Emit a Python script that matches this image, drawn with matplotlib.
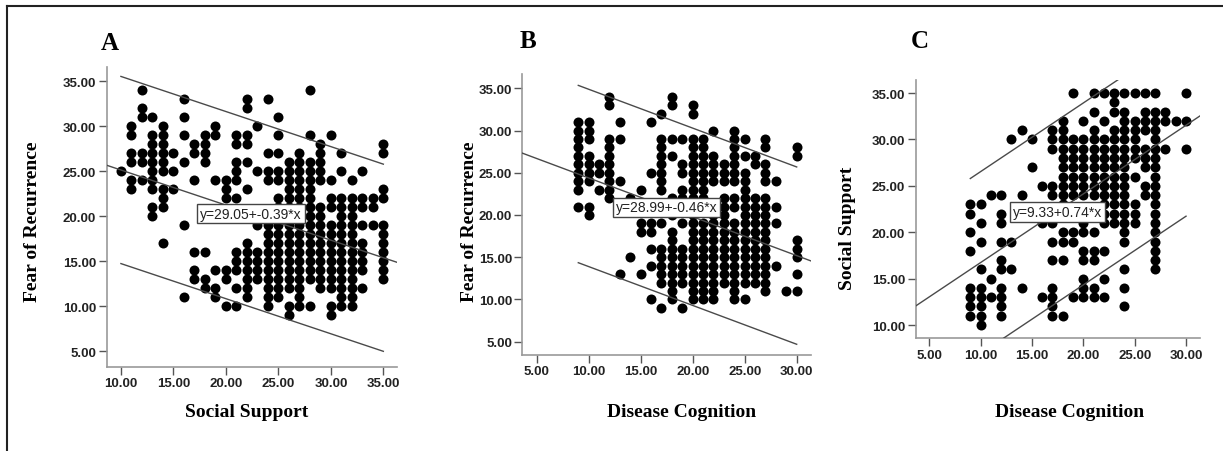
import matplotlib
matplotlib.use('Agg')
import matplotlib.pyplot as plt
from matplotlib.lines import Line2D

# ---- data (one list of y values per x column) ----
a_cols = [10, 11, 12, 13, 14, 15, 16, 17, 18, 19, 20, 21, 22, 23, 24, 25, 26, 27, 28, 29, 30, 31, 32, 33, 34, 35]
a_vals = [
    [25],
    [30, 29, 27, 26, 24, 23],
    [34, 32, 31, 27, 26, 24],
    [31, 29, 28, 27, 26, 25, 24, 23, 21, 20],
    [30, 29, 28, 27, 26, 25, 23, 22, 21, 17],
    [27, 25, 23],
    [33, 31, 29, 26, 19, 11],
    [28, 27, 24, 16, 14, 13],
    [29, 28, 27, 26, 16, 13, 12],
    [30, 29, 24, 14, 12, 11],
    [24, 23, 22, 14, 13, 10],
    [29, 28, 26, 25, 24, 22, 16, 15, 14, 12, 10],
    [33, 32, 29, 28, 26, 23, 17, 16, 15, 14, 13, 12, 11],
    [30, 25, 19, 16, 15, 14, 13],
    [33, 27, 25, 24, 19, 18, 17, 16, 15, 14, 13, 12, 11, 10],
    [31, 29, 27, 25, 24, 22, 21, 20, 19, 18, 17, 16, 15, 14, 13, 12, 11],
    [26, 25, 24, 23, 22, 21, 20, 19, 18, 17, 16, 15, 14, 13, 12, 10, 9],
    [27, 26, 25, 24, 23, 22, 21, 20, 19, 18, 17, 16, 15, 14, 13, 12, 11, 10],
    [34, 29, 26, 25, 24, 23, 22, 21, 20, 19, 18, 17, 16, 15, 14, 13, 10],
    [28, 27, 26, 25, 24, 21, 20, 19, 18, 17, 16, 15, 14, 13, 12],
    [29, 24, 22, 21, 19, 18, 17, 16, 15, 14, 13, 12, 10, 9],
    [27, 25, 22, 21, 20, 19, 18, 17, 16, 15, 14, 13, 12, 11, 10],
    [24, 22, 21, 20, 19, 18, 17, 16, 15, 14, 13, 12, 11, 10],
    [25, 22, 21, 19, 17, 16, 15, 14, 12],
    [22, 21, 19],
    [28, 27, 23, 22, 19, 18, 17, 16, 15, 14, 13],
]

b_cols = [9, 10, 11, 12, 13, 14, 15, 16, 17, 18, 19, 20, 21, 22, 23, 24, 25, 26, 27, 28, 29, 30]
b_vals = [
    [31, 30, 29, 28, 27, 26, 25, 24, 23, 21],
    [31, 30, 29, 27, 26, 25, 24, 21, 20],
    [26, 25, 23],
    [34, 33, 29, 28, 27, 26, 25, 24, 23, 22],
    [31, 29, 24, 13],
    [22, 15],
    [23, 19, 18, 13],
    [31, 25, 19, 18, 16, 14, 10],
    [32, 29, 28, 27, 26, 25, 24, 23, 19, 16, 15, 14, 13, 12, 9],
    [34, 33, 29, 27, 22, 20, 18, 17, 16, 15, 14, 13, 12, 11, 10],
    [29, 26, 25, 23, 22, 19, 16, 15, 14, 13, 12, 9],
    [33, 32, 29, 28, 27, 26, 25, 24, 23, 22, 21, 20, 19, 18, 17, 16, 15, 14, 13, 12, 11, 10],
    [29, 28, 27, 26, 25, 24, 23, 22, 19, 18, 17, 16, 15, 14, 13, 12, 11, 10],
    [30, 27, 26, 25, 24, 20, 19, 18, 17, 16, 15, 14, 13, 12, 11, 10],
    [26, 25, 24, 22, 21, 20, 19, 18, 17, 16, 15, 14, 13, 12],
    [30, 29, 28, 27, 26, 25, 24, 22, 21, 19, 18, 17, 16, 15, 14, 13, 12, 11, 10],
    [29, 27, 25, 24, 23, 22, 21, 20, 19, 18, 17, 16, 15, 14, 13, 12, 10],
    [27, 26, 22, 21, 20, 19, 18, 17, 16, 15, 14, 13, 12],
    [29, 28, 26, 25, 24, 22, 21, 20, 19, 18, 17, 16, 15, 14, 13, 12, 11],
    [24, 21, 19, 14],
    [11],
    [28, 27, 17, 16, 15, 13, 11],
]

c_cols = [9, 10, 11, 12, 13, 14, 15, 16, 17, 18, 19, 20, 21, 22, 23, 24, 25, 26, 27, 28, 29, 30]
c_vals = [
    [23, 22, 20, 18, 14, 13, 12, 11],
    [23, 21, 19, 16, 14, 13, 12, 11, 10],
    [24, 15, 13],
    [24, 22, 21, 19, 17, 16, 14, 13, 12, 11],
    [30, 19, 16],
    [31, 24, 14],
    [30, 27],
    [25, 21, 13],
    [31, 30, 29, 25, 24, 21, 19, 17, 14, 13, 12, 11],
    [32, 31, 30, 29, 28, 27, 26, 25, 24, 23, 20, 19, 17, 11],
    [35, 30, 29, 28, 27, 26, 25, 24, 20, 19, 13],
    [32, 30, 29, 28, 27, 26, 25, 24, 21, 20, 18, 17, 15, 14, 13],
    [35, 33, 31, 30, 29, 28, 27, 26, 25, 24, 20, 18, 17, 14, 13],
    [35, 32, 30, 29, 28, 27, 26, 25, 24, 23, 22, 21, 18, 15, 13],
    [35, 34, 33, 31, 30, 29, 28, 27, 26, 25, 24, 23, 22, 21],
    [35, 33, 32, 31, 30, 29, 28, 27, 26, 25, 24, 23, 22, 21, 20, 19, 16, 14, 12],
    [35, 32, 31, 30, 29, 28, 26, 23, 22, 21],
    [35, 33, 32, 31, 29, 28, 27, 25, 24],
    [35, 33, 32, 31, 30, 29, 28, 27, 26, 25, 24, 23, 22, 21, 20, 19, 18, 17, 16],
    [33, 32, 29],
    [32],
    [35, 32, 29],
]

# fit lines: intercept, slope, half-width of the prediction band
a_fit = (29.05, -0.39, 10.4)
b_fit = (28.99, -0.46, 10.5)
c_fit = (9.33, 0.74, 9.8)

a_eq = "y=29.05+-0.39*x"
b_eq = "y=28.99+-0.46*x"
c_eq = "y=9.33+0.74*x"

ticks_5_35 = [5, 10, 15, 20, 25, 30, 35]
ticks_10_35 = [10, 15, 20, 25, 30, 35]
ticks_5_30 = [5, 10, 15, 20, 25, 30]

W, H = 1223, 452
fig = plt.figure(figsize=(W / 100, H / 100), dpi=100)
fig.patch.set_facecolor('white')

serif = 'Liberation Serif'
sans = 'Liberation Sans'


def px(x, y):
    return x / W, 1 - y / H


def make_panel(rect, cols, vals, fit, eq, eq_pos, xlim, ylim, xticks, yticks):
    ax = fig.add_axes(rect)
    xs, ys = [], []
    for c, v in zip(cols, vals):
        for y in v:
            xs.append(c)
            ys.append(y)
    ax.plot(xs, ys, 'o', color='black', markersize=7.2, markeredgewidth=0, zorder=2)

    b0, b1, half = fit
    # mean line across the whole axis
    ax.plot(xlim, [b0 + b1 * xlim[0], b0 + b1 * xlim[1]], color='#4a4a4a', lw=1.0, zorder=3)
    # prediction band over the data range
    x0, x1 = min(cols), max(cols)
    for s in (half, -half):
        ax.plot([x0, x1], [b0 + b1 * x0 + s, b0 + b1 * x1 + s], color='#4a4a4a', lw=1.0, zorder=3)

    ax.text(eq_pos[0], eq_pos[1], eq, ha='center', va='center', fontsize=10, family=sans,
            color='#222222', zorder=5,
            bbox=dict(boxstyle='square,pad=0.2', facecolor='white', edgecolor='#444444', lw=1.0))

    ax.set_xlim(*xlim)
    ax.set_ylim(*ylim)
    ax.set_xticks(xticks)
    ax.set_yticks(yticks)
    ax.set_xticklabels([f"{t:.2f}" for t in xticks])
    ax.set_yticklabels([f"{t:.2f}" for t in yticks])
    for lab in ax.get_xticklabels() + ax.get_yticklabels():
        lab.set_family(sans)
        lab.set_fontweight('bold')
        lab.set_fontsize(9.5)
        lab.set_color('#222222')
    ax.tick_params(direction='out', length=5.5, width=1.0, color='#555555', pad=2)
    for side in ('top', 'right'):
        ax.spines[side].set_visible(False)
    for side in ('left', 'bottom'):
        ax.spines[side].set_color('#999999')
        ax.spines[side].set_linewidth(1.2)
    return ax


make_panel([0.0872, 0.1865, 0.2374, 0.6631], a_cols, a_vals, a_fit, a_eq, (22.4, 20.3),
           (8.64, 36.3), (3.29, 36.6), ticks_10_35, ticks_5_35)
make_panel([0.4271, 0.2124, 0.2358, 0.6217], b_cols, b_vals, b_fit, b_eq, (17.5, 20.9),
           (3.62, 31.35), (3.42, 36.7), ticks_5_30, ticks_5_35)
make_panel([0.7487, 0.2493, 0.2325, 0.5714], c_cols, c_vals, c_fit, c_eq, (17.5, 22.2),
           (3.68, 31.36), (8.57, 36.4), ticks_5_30, ticks_10_35)

# panel letters and axis titles
for txt, (x, y) in [("A", (110, 43)), ("B", (528, 42)), ("C", (920, 42))]:
    fig.text(*px(x, y), txt, ha='center', va='center', fontsize=18, fontweight='bold', family=serif)

for txt, (x, y) in [("Social Support", (247, 413)), ("Disease Cognition", (682, 413)),
                    ("Disease Cognition", (1070, 413))]:
    fig.text(*px(x, y), txt, ha='center', va='center', fontsize=14, fontweight='bold', family=serif)

for txt, (x, y) in [("Fear of Recurrence", (33, 222)), ("Fear of Recurrence", (470, 222)),
                    ("Social Support", (847, 228))]:
    fig.text(*px(x, y), txt, ha='center', va='center', rotation=90, fontsize=14,
             fontweight='bold', family=serif)

# outer frame (left and top edges are visible in the picture)
fig.add_artist(Line2D([7 / W, 7 / W], [0, 1 - 7 / H], color='#222222', lw=1.5))
fig.add_artist(Line2D([7 / W, 1], [1 - 7 / H, 1 - 7 / H], color='#222222', lw=1.5))

fig.savefig('out.png', dpi=100, facecolor='white')
